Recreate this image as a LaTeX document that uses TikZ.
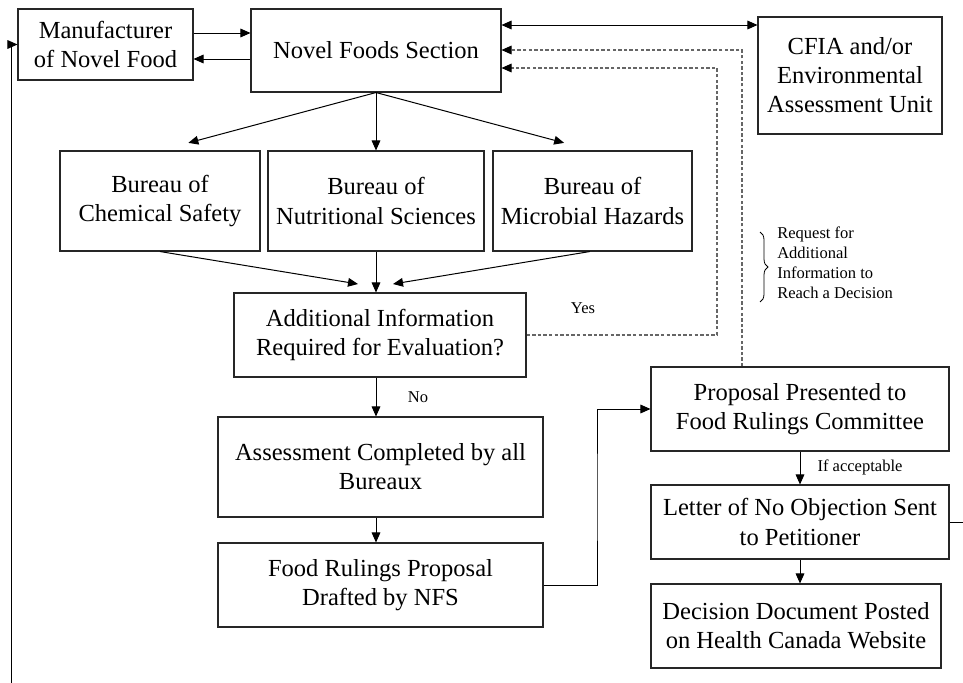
\documentclass[tikz,border=0pt]{standalone}
\usepackage{fontspec}
\setmainfont{Liberation Serif}
\usetikzlibrary{arrows.meta,calc,decorations.pathreplacing}
\begin{document}
\begin{tikzpicture}[x=0.75pt,y=-0.75pt,
  box/.style={draw=black!85,line width=0.8pt,align=center,inner sep=0pt,
    font=\fontsize{18.4}{21.8}\selectfont},
  arr/.style={line width=0.75pt,-{Triangle[length=7.5pt,width=6.5pt]}},
  dbl/.style={line width=0.75pt,{Triangle[length=7.5pt,width=6.5pt]}-{Triangle[length=7.5pt,width=6.5pt]}},
  dasharr/.style={line width=0.8pt,black!60,dash pattern=on 2.6pt off 1.6pt,-{Triangle[length=7.5pt,width=6.5pt,color=black]}},
  lbl/.style={inner sep=0pt,font=\fontsize{12.4}{15}\selectfont}]
\useasboundingbox (0,0) rectangle (963,682);
\clip (0,0) rectangle (963,682);
\fill[white] (0,0) rectangle (963,682);

% nodes
\node[box,minimum width=175*0.75pt,minimum height=71*0.75pt] (manu) at (105.5,44.5) {Manufacturer\\of Novel Food};
\node[box,minimum width=250*0.75pt,minimum height=83*0.75pt] (nfs) at (376,50.5) {Novel Foods Section};
\node[box,minimum width=184*0.75pt,minimum height=117*0.75pt] (cfia) at (850,75.5) {CFIA and/or\\Environmental\\Assessment Unit};
\node[box,minimum width=200*0.75pt,minimum height=100*0.75pt] (chem) at (160,201) {Bureau of\\Chemical Safety};
\node[box,minimum width=216*0.75pt,minimum height=100*0.75pt] (nutr) at (376,201) {Bureau of\\Nutritional Sciences};
\node[box,minimum width=199*0.75pt,minimum height=100*0.75pt] (micro) at (592.5,201) {Bureau of\\Microbial Hazards};
\node[box,minimum width=292*0.75pt,minimum height=84*0.75pt] (addinfo) at (380,335) {Additional Information\\Required for Evaluation?};
\node[box,minimum width=325*0.75pt,minimum height=100*0.75pt] (assess) at (380.5,467) {Assessment Completed by all\\Bureaux};
\node[box,minimum width=325*0.75pt,minimum height=84*0.75pt] (rulings) at (380.5,585) {Food Rulings Proposal\\Drafted by NFS};
\node[box,minimum width=298*0.75pt,minimum height=84*0.75pt] (prop) at (800,409) {Proposal Presented to\\Food Rulings Committee};
\node[box,minimum width=298*0.75pt,minimum height=74*0.75pt] (letter) at (800,522) {Letter of No Objection Sent\\to Petitioner};
\node[box,minimum width=290*0.75pt,minimum height=84*0.75pt] (decision) at (796,626) {Decision Document Posted\\on Health Canada Website};

% labels
\node[lbl] (yes) at (583,308) {Yes};
\node[lbl] (no) at (418,397) {No};
\node[lbl] (ifacc) at (860,467) {If acceptable};
\node[lbl,anchor=north west,align=left] (req) at (777,227) {Request for\\Additional\\Information to\\Reach a Decision};

% helper coordinates
\coordinate (r33) at (0,33);
\coordinate (r59) at (0,59);
\coordinate (r25) at (0,25);
\coordinate (dIn) at (717,68);
\coordinate (dOut) at (742,50);
\coordinate (c1) at (358,284);
\coordinate (c2) at (393,284);
\coordinate (bt) at (760,232);
\coordinate (bb) at (760,302);
\coordinate (loopR) at (975,700);
\coordinate (loopL) at (11,700);

% connectors
\draw[arr] (manu.east |- r33) -- (nfs.west |- r33);
\draw[arr] (nfs.west |- r59) -- (manu.east |- r59);
\draw[dbl] (nfs.east |- r25) -- (cfia.west |- r25);
\draw[arr,shorten >=22pt] (nfs.south) -- (chem.north);
\draw[arr] (nfs.south) -- (nutr.north);
\draw[arr,shorten >=22pt] (nfs.south) -- (micro.north);
\draw[arr] (chem.south) -- (c1);
\draw[arr] (nutr.south) -- (addinfo.north -| nutr.south);
\draw[arr] ([xshift=-2pt]micro.south) -- (c2);
\draw[dasharr] (addinfo.east) -| (dIn) -- (nfs.east |- dIn);
\draw[dasharr] (prop.north -| dOut) -- (dOut) -- (nfs.east |- dOut);
\draw[arr] (addinfo.south -| nutr.south) -- (assess.north -| nutr.south);
\draw[arr] (assess.south -| nutr.south) -- (rulings.north -| nutr.south);
\draw[arr] (rulings.east) -| ($(rulings.east)!0.5!(prop.west)$) |- (prop.west);
\draw[arr] (prop.south) -- (letter.north);
\draw[arr] (letter.south) -- (letter.south |- decision.north);
\draw[arr] (letter.east) -| (loopR) -- (loopL) |- (manu.west);
\draw[line width=0.6pt,decorate,decoration={brace,amplitude=6pt}] (bt) -- (bb);
\end{tikzpicture}
\end{document}
